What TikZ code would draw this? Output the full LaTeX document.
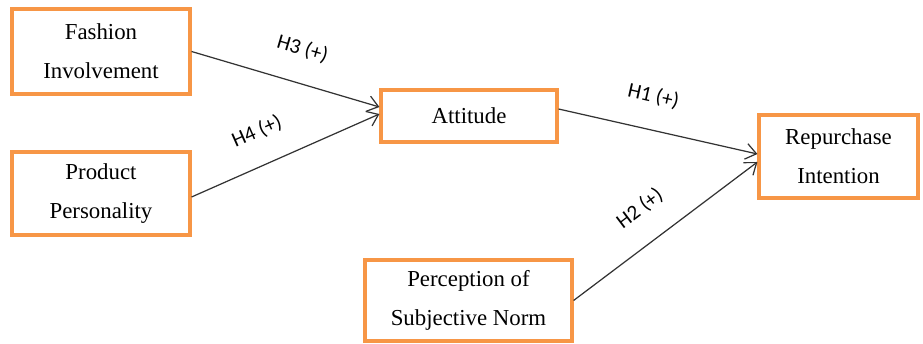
\documentclass[tikz,border=0pt]{standalone}
\usepackage{fontspec}
\setmainfont{Liberation Serif}
\newfontfamily\hypfont{Carlito}
\usepackage{tikz}
\usetikzlibrary{arrows.meta}
\definecolor{boxorange}{HTML}{F79646}

\begin{document}
\begin{tikzpicture}[
  x=0.02cm, y=-0.02cm,
  box/.style={draw=boxorange,line width=1.8pt,fill=white,inner sep=0pt,
    align=center,font=\fontsize{13}{22}\selectfont},
  path/.style={draw=black!80,line width=0.7pt,-{Straight Barb[length=6pt,width=9pt]}},
  hyp/.style={font=\hypfont\fontsize{12}{14}\selectfont,sloped,above=0.36cm},
]
\useasboundingbox (0,0) rectangle (923,344);

\node[box,minimum width=3.56cm,minimum height=1.70cm] (fash) at (101,51.5) {Fashion\\Involvement};
\node[box,minimum width=3.56cm,minimum height=1.66cm] (prod) at (101,193.5) {Product\\Personality};
\node[box,minimum width=3.52cm,minimum height=1.04cm] (att) at (469,116) {Attitude};
\node[box,minimum width=3.18cm,minimum height=1.66cm] (rep) at (838.5,156.5) {Repurchase\\Intention};
\node[box,minimum width=4.14cm,minimum height=1.62cm] (perc) at (468.5,300.5) {Perception of\\Subjective Norm};

\draw[path] (fash.east) -- node[hyp,pos=0.54] {H3 (+)} ([yshift=0.18cm]att.west);
\draw[path] ([yshift=-0.07cm]prod.east) -- node[hyp,pos=0.42] {H4 (+)} ([yshift=0.04cm]att.west);
\draw[path] ([yshift=0.14cm]att.east) -- node[hyp,pos=0.44] {H1 (+)} ([yshift=0.05cm]rep.west);
\draw[path] (perc.east) -- node[hyp,pos=0.47] {H2 (+)} ([yshift=-0.11cm]rep.west);
\end{tikzpicture}
\end{document}
